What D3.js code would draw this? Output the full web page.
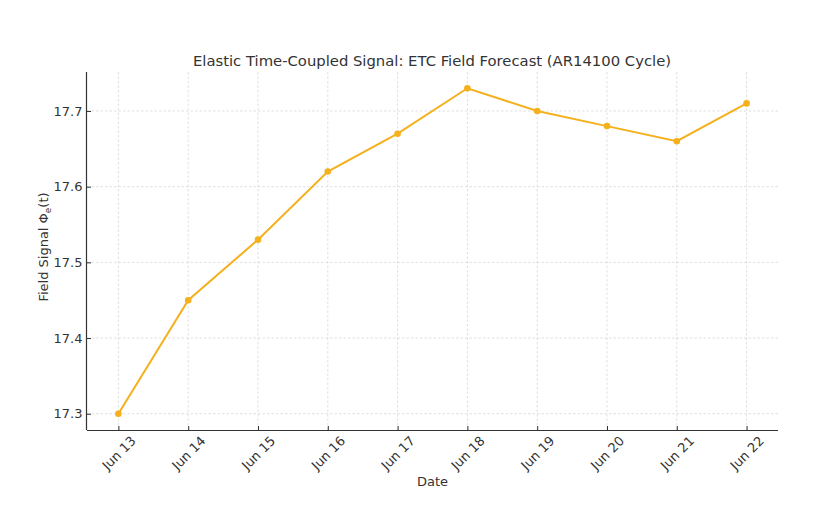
<!DOCTYPE html>
<html><head><meta charset="utf-8">
<script src="https://cdn.jsdelivr.net/npm/d3@7"></script>
<style>body{margin:0;background:#fff;} text{font-family:"DejaVu Sans",sans-serif;}</style>
</head><body>
<svg id="c" width="816" height="532"></svg>
<script>
const dates = ["Jun 13","Jun 14","Jun 15","Jun 16","Jun 17","Jun 18","Jun 19","Jun 20","Jun 21","Jun 22"];
const values = [17.30,17.45,17.53,17.62,17.67,17.73,17.70,17.68,17.66,17.71];
const yTicks = [17.3,17.4,17.5,17.6,17.7];

const svg = d3.select("#c");
const L=87, R=778, T=72, B=430;
const x = d3.scaleLinear().domain([-0.45, dates.length-1+0.45]).range([L,R]);
const y = d3.scaleLinear().domain([17.2785,17.7515]).range([B,T]);
const color="#f4b01d", ink="#333";

// grid
const g = svg.append("g");
g.selectAll(".vg").data(dates).enter().append("line")
 .attr("x1",(d,i)=>x(i)).attr("x2",(d,i)=>x(i)).attr("y1",T).attr("y2",B)
 .attr("stroke","#d2d2d2").attr("stroke-width",0.7).attr("stroke-dasharray","2.5,2");
g.selectAll(".hg").data(yTicks).enter().append("line")
 .attr("x1",L).attr("x2",R).attr("y1",d=>y(d)).attr("y2",d=>y(d))
 .attr("stroke","#d2d2d2").attr("stroke-width",0.7).attr("stroke-dasharray","2.5,2");

// axes
const xAxis = d3.axisBottom(x).tickValues(d3.range(dates.length)).tickFormat(i=>dates[i]).tickSizeInner(-4).tickSizeOuter(0);
const xg = svg.append("g").attr("transform",`translate(0,${B})`).call(xAxis);
xg.select(".domain").attr("d",`M${L},0.5H${R}`).attr("stroke",ink).attr("stroke-width",1.2);
xg.selectAll(".tick line").attr("stroke",ink);
xg.selectAll(".tick text").attr("fill",ink).style("font-size","13px").attr("text-anchor","middle")
 .attr("dy","0.35em").attr("y",0).attr("transform","translate(0,23) rotate(-45)");

const yAxis = d3.axisLeft(y).tickValues(yTicks).tickFormat(d3.format(".1f")).tickSizeInner(-4).tickSizeOuter(0).tickPadding(4.5);
const yg = svg.append("g").attr("transform",`translate(${L},0)`).call(yAxis);
yg.select(".domain").attr("d",`M-0.5,${T}V${B}`).attr("stroke",ink).attr("stroke-width",1.2);
yg.selectAll(".tick line").attr("stroke",ink);
yg.selectAll(".tick text").attr("fill",ink).style("font-size","13px");

// line
const line = d3.line().x((d,i)=>x(i)).y(d=>y(d));
svg.append("path").datum(values).attr("d",line).attr("fill","none").attr("stroke",color).attr("stroke-width",2);
svg.selectAll(".pt").data(values).enter().append("circle")
 .attr("cx",(d,i)=>x(i)).attr("cy",d=>y(d)).attr("r",3.3).attr("fill",color);

// labels
svg.append("text").attr("x",(L+R)/2-0.5).attr("y",66).attr("text-anchor","middle").attr("fill",ink).style("font-size","14.8px")
 .text("Elastic Time-Coupled Signal: ETC Field Forecast (AR14100 Cycle)");
svg.append("text").attr("x",(L+R)/2).attr("y",486).attr("text-anchor","middle").attr("fill",ink).style("font-size","13px").text("Date");
const yl = svg.append("text").attr("transform",`translate(48,247) rotate(-90)`).attr("text-anchor","middle").attr("fill",ink).style("font-size","13px");
yl.append("tspan").text("Field Signal Φ");
yl.append("tspan").attr("dy",3).style("font-size","9px").text("e");
yl.append("tspan").attr("dy",-3).text("(t)");
</script>
</body></html>
